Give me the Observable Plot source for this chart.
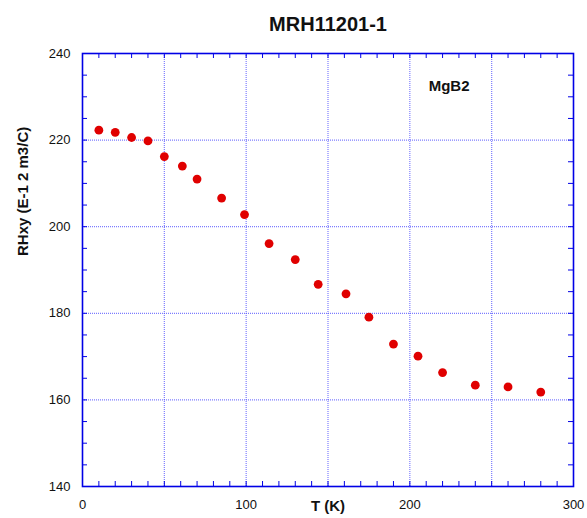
<!DOCTYPE html>
<html>
<head>
<meta charset="utf-8">
<script src="https://cdn.jsdelivr.net/npm/d3@7"></script>
<script src="https://cdn.jsdelivr.net/npm/@observablehq/plot@0.6"></script>
<style>
  html, body { margin: 0; padding: 0; background: #fff; }
</style>
</head>
<body>
<div id="chart"></div>
<script>
// Data
const temperatureK = [10, 20, 30, 40, 50, 61, 70, 85, 99, 114, 130, 144, 161, 175, 190, 205, 220, 240, 260, 280];
const rhxy = [222.3, 221.8, 220.6, 219.8, 216.2, 214.0, 211.0, 206.6, 202.8, 196.1, 192.4, 186.7, 184.5, 179.1, 172.9, 170.1, 166.3, 163.4, 163.0, 161.8];

const xTickLabels = [0, 100, 200, 300];
const yTickLabels = [140, 160, 180, 200, 220, 240];
const xGrid = [50, 100, 150, 200, 250];
const yGrid = [160, 180, 200, 220];
const xMinor = d3.range(10, 300, 10);
const yMinor = d3.range(145, 240, 5);

const titleText = "MRH11201-1";
const sampleLabel = ["MgB2"];
const xLabel = "T (K)";
const yLabel = "RHxy (E-1 2 m3/C)";

const points = temperatureK.map((t, i) => ({t, r: rhxy[i]}));

const W = 587, H = 518;
const mL = 82, mR = 14, mT = 53, mB = 32;
const pw = W - mL - mR, ph = H - mT - mB;
const blue = "#0000e6";
const tickLen = 5;

const chart = Plot.plot({
  width: W,
  height: H,
  marginLeft: mL,
  marginRight: mR,
  marginTop: mT,
  marginBottom: mB,
  style: {fontFamily: "'Liberation Sans', Arial, Helvetica, sans-serif", fontSize: "13px", color: "#111", background: "#fff"},
  x: {domain: [0, 300]},
  y: {domain: [140, 240]},
  marks: [
    Plot.ruleX(xGrid, {x: d => d, stroke: "#5050ff", strokeWidth: 1.2, strokeDasharray: "1,1", strokeOpacity: 0.75}),
    Plot.ruleY(yGrid, {y: d => d, stroke: "#5050ff", strokeWidth: 1.2, strokeDasharray: "1,1", strokeOpacity: 0.75}),
    // inward minor ticks on all four sides
    Plot.ruleX(xMinor, {x: d => d, insetTop: ph - tickLen, stroke: blue, strokeWidth: 1}),
    Plot.ruleX(xMinor, {x: d => d, insetBottom: ph - tickLen, stroke: blue, strokeWidth: 1}),
    Plot.ruleY(yMinor, {y: d => d, insetLeft: pw - tickLen, stroke: blue, strokeWidth: 1}),
    Plot.ruleY(yMinor, {y: d => d, insetRight: pw - tickLen, stroke: blue, strokeWidth: 1}),
    Plot.frame({stroke: blue, strokeWidth: 1.6}),
    Plot.axisX({ticks: xTickLabels, tickSize: 0, tickPadding: 13, tickFormat: d => String(d), label: null, fontSize: 13}),
    Plot.axisY({ticks: yTickLabels, tickSize: 0, tickPadding: 12, tickFormat: d => String(d), label: null, fontSize: 13}),
    Plot.dot(points, {x: "t", y: "r", r: 4.4, fill: "#e00000", stroke: "none"}),
    Plot.text(sampleLabel, {x: () => 224, y: () => 232.5, text: d => d, fontWeight: "bold", fontSize: 15, fill: "#111"}),
    Plot.text([titleText], {frameAnchor: "top", text: d => d, dy: -37, fontWeight: "bold", fontSize: 20, fill: "#111"}),
    Plot.text([xLabel], {frameAnchor: "bottom", text: d => d, dy: 24, fontWeight: "bold", fontSize: 15, fill: "#111"}),
    Plot.text([yLabel], {frameAnchor: "left", text: d => d, rotate: -90, dx: -59, dy: -14, fontWeight: "bold", fontSize: 15, fill: "#111"})
  ]
});
document.getElementById("chart").appendChild(chart);
</script>
</body>
</html>
